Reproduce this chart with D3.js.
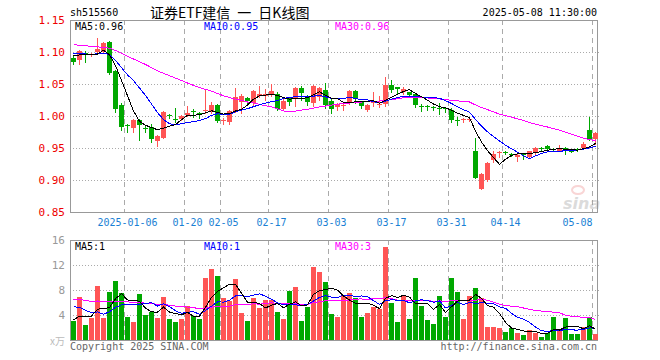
<!DOCTYPE html>
<html>
<head>
<meta charset="utf-8">
<script src="https://cdn.jsdelivr.net/npm/d3@7"></script>
<style>
  body { margin: 0; background: #fff; }
  svg { display: block; }
  text { font-family: "DejaVu Sans Mono", monospace; font-size: 10px; }
</style>
</head>
<body>
<div id="chart"></div>
<script>
// trading days shown on the chart
const dates = [
  '2024-12-23','2024-12-24','2024-12-25','2024-12-26','2024-12-27','2024-12-30','2024-12-31',
  '2025-01-02','2025-01-03','2025-01-06','2025-01-07','2025-01-08','2025-01-09','2025-01-10',
  '2025-01-13','2025-01-14','2025-01-15','2025-01-16','2025-01-17','2025-01-20','2025-01-21',
  '2025-01-22','2025-01-23','2025-01-24','2025-01-27','2025-02-05','2025-02-06','2025-02-07',
  '2025-02-10','2025-02-11','2025-02-12','2025-02-13','2025-02-14','2025-02-17','2025-02-18',
  '2025-02-19','2025-02-20','2025-02-21','2025-02-24','2025-02-25','2025-02-26','2025-02-27',
  '2025-02-28','2025-03-03','2025-03-04','2025-03-05','2025-03-06','2025-03-07','2025-03-10',
  '2025-03-11','2025-03-12','2025-03-13','2025-03-14','2025-03-17','2025-03-18','2025-03-19',
  '2025-03-20','2025-03-21','2025-03-24','2025-03-25','2025-03-26','2025-03-27','2025-03-28',
  '2025-03-31','2025-04-01','2025-04-02','2025-04-03','2025-04-07','2025-04-08','2025-04-09',
  '2025-04-10','2025-04-11','2025-04-14','2025-04-15','2025-04-16','2025-04-17','2025-04-18',
  '2025-04-21','2025-04-22','2025-04-23','2025-04-24','2025-04-25','2025-04-28','2025-04-29',
  '2025-04-30','2025-05-06','2025-05-07','2025-05-08'
]

const open = [
  1.091,1.088,1.098,1.095,1.100,1.100,1.115,1.071,1.017,0.986,
  0.981,0.994,0.982,0.983,0.960,0.967,1.001,0.996,0.996,1.001,
  1.008,1.005,1.007,1.007,1.017,0.992,0.991,1.007,1.021,1.028,
  1.021,1.031,1.032,1.034,1.035,1.012,1.028,1.028,1.043,1.031,
  1.021,1.029,1.040,1.024,1.013,1.016,1.020,1.039,1.022,1.009,
  1.021,1.018,1.018,1.048,1.045,1.038,1.038,1.035,1.016,1.015,
  1.014,1.013,1.012,1.010,0.994,0.994,0.993,0.946,0.887,0.900,
  0.930,0.942,0.944,0.941,0.936,0.941,0.936,0.942,0.950,0.953,
  0.948,0.946,0.950,0.946,0.948,0.950,0.978,0.964
]
const high = [
  1.093,1.103,1.102,1.099,1.122,1.116,1.117,1.072,1.020,0.988,
  0.995,0.995,0.985,0.987,0.970,1.008,1.003,1.013,1.001,1.016,
  1.011,1.007,1.040,1.022,1.019,0.997,1.009,1.043,1.034,1.030,
  1.040,1.047,1.042,1.050,1.038,1.027,1.030,1.045,1.047,1.033,
  1.049,1.046,1.051,1.026,1.020,1.020,1.041,1.041,1.024,1.018,
  1.037,1.032,1.061,1.056,1.045,1.045,1.038,1.036,1.019,1.017,
  1.016,1.020,1.014,1.012,0.999,0.997,0.996,0.966,0.911,0.928,
  0.945,0.946,0.946,0.942,0.941,0.942,0.946,0.951,0.951,0.954,
  0.950,0.954,0.951,0.947,0.950,0.959,0.999,0.975
]
const low = [
  1.081,1.082,1.084,1.093,1.099,1.099,1.066,1.007,0.978,0.975,
  0.975,0.963,0.975,0.960,0.953,0.966,0.997,0.990,0.994,1.000,
  0.999,0.997,1.005,1.005,0.990,0.988,0.987,1.006,1.005,1.020,
  1.016,1.029,1.025,1.032,1.010,1.010,1.017,1.015,1.025,1.017,
  1.015,1.025,1.013,1.005,1.010,1.010,1.018,1.020,1.012,1.008,
  1.015,1.014,1.015,1.037,1.036,1.035,1.030,1.014,1.008,1.010,
  1.010,1.003,1.006,0.990,0.986,0.991,0.992,0.903,0.886,0.898,
  0.928,0.936,0.940,0.937,0.929,0.933,0.935,0.941,0.947,0.948,
  0.945,0.945,0.941,0.943,0.945,0.949,0.962,0.956
]
const close = [
  1.084,1.102,1.097,1.097,1.104,1.114,1.067,1.011,0.982,0.985,
  0.994,0.986,0.981,0.964,0.968,1.007,1.000,0.995,1.000,1.004,
  1.007,1.004,1.009,1.017,0.992,0.993,1.008,1.029,1.031,1.024,
  1.039,1.034,1.035,1.039,1.012,1.024,1.021,1.043,1.035,1.021,
  1.047,1.043,1.016,1.012,1.018,1.017,1.039,1.026,1.016,1.017,
  1.022,1.019,1.048,1.040,1.042,1.042,1.034,1.018,1.015,1.014,
  1.013,1.012,1.011,0.994,0.993,0.995,0.995,0.904,0.910,0.926,
  0.940,0.943,0.943,0.940,0.939,0.940,0.945,0.950,0.949,0.949,
  0.947,0.950,0.945,0.945,0.947,0.957,0.964,0.973
]
const volume = [
  3.04,6.93,2.40,3.57,8.69,3.57,7.73,9.49,7.57,3.73,
  2.93,7.36,4.00,4.43,3.57,6.93,3.36,2.93,3.36,5.49,
  3.84,3.36,9.97,11.36,10.29,6.77,6.29,9.76,4.27,3.09,
  6.77,5.17,6.40,6.40,4.53,3.36,7.84,8.43,3.09,5.33,
  11.73,10.93,9.33,4.20,3.73,7.09,7.57,6.77,3.73,4.37,
  5.33,4.91,14.93,5.97,2.93,7.04,3.41,9.97,5.44,3.20,
  2.56,7.09,3.73,9.97,7.73,3.41,7.04,8.37,6.67,2.13,
  2.08,1.97,1.33,1.97,1.17,0.80,1.60,1.17,0.53,1.07,
  3.73,1.49,3.57,0.96,0.96,2.08,3.73,0.96
]

// sessions before the window, only used to seed the moving averages
const preClose = [
  1.120,1.125,1.130,1.128,1.122,1.118,1.115,1.120,1.125,1.118,
  1.112,1.108,1.115,1.120,1.118,1.112,1.110,1.115,1.118,1.120,
  1.100,1.100,1.100,1.100,1.100,1.095,1.097,1.097,1.097
]
const preVolume = [
  6.5,7.8,8.2,6.9,7.4,5.6,7.9,8.5,6.2,7.0,
  6.8,7.6,5.9,7.2,8.0,6.4,7.3,6.6,7.1,6.8,
  8.1,7.2,6.9,7.8,7.3,3.73,2.4,3.57,3.26
]

const tickDates = ['2025-01-06','2025-01-20','2025-02-05','2025-02-17','2025-03-03',
  '2025-03-17','2025-03-31','2025-04-14','2025-05-08']
const priceTicks = [0.85, 0.90, 0.95, 1.00, 1.05, 1.10, 1.15]
const volTicks = [4, 8, 12, 16]
const maPeriods = [5, 10, 30]
const maColors = ['#000', '#00f', '#f0f']

const width = 660, height = 360
const left = 70, right = 597
const pTop = 20, pBottom = 212
const vTop = 240, vBottom = 340
const upColor = '#ff5555', downColor = '#00a800'

function movingAverage(pre, series, n) {
  const all = pre.concat(series)
  return series.map((_, i) => {
    const end = pre.length + i
    return d3.mean(all.slice(end - n + 1, end + 1))
  })
}

const svg = d3.select('#chart').append('svg')
  .attr('width', width)
  .attr('height', height)

const x = d3.scaleBand()
  .domain(d3.range(dates.length))
  .range([70.5, 598.5])
  .paddingInner(1 / 6)
  .paddingOuter(1 / 12)

const y = d3.scaleLinear().domain([0.85, 1.15]).range([pBottom, pTop])
const yv = d3.scaleLinear().domain([0, 16]).range([vBottom, vTop])

const tickIdx = tickDates.map(d => dates.indexOf(d))
const isUp = i => close[i] >= open[i]

// header
svg.append('text').attr('x', 70).attr('y', 16).text('sh515560')
svg.append('text')
  .attr('x', 150).attr('y', 18)
  .style('font-family', '"Noto Sans CJK SC", sans-serif')
  .style('font-size', '14px')
  .text('证券ETF建信\u2002一\u2002日K线图')
svg.append('text')
  .attr('x', 597).attr('y', 16)
  .attr('text-anchor', 'end')
  .text('2025-05-08 11:30:00')

// grid and frames
function panelGrid(top, bottom, yScale, values) {
  const g = svg.append('g')
  g.selectAll('line.h')
    .data(values.filter(v => yScale(v) > top + 1 && yScale(v) < bottom - 1))
    .join('line')
    .attr('x1', left).attr('x2', right + 3)
    .attr('y1', d => Math.round(yScale(d)) + 0.5)
    .attr('y2', d => Math.round(yScale(d)) + 0.5)
    .attr('stroke', '#aaa')
    .attr('stroke-dasharray', '1,2')
  g.selectAll('line.v')
    .data(tickIdx)
    .join('line')
    .attr('x1', d => x(d) - 0.5).attr('x2', d => x(d) - 0.5)
    .attr('y1', top).attr('y2', bottom)
    .attr('stroke', '#aaa')
    .attr('stroke-dasharray', '5,4')
  g.append('rect')
    .attr('x', left + 0.5).attr('y', top + 0.5)
    .attr('width', right - left).attr('height', bottom - top)
    .attr('fill', 'none')
    .attr('stroke', '#999')
}
panelGrid(pTop, pBottom, y, priceTicks)
panelGrid(vTop, vBottom, yv, volTicks)

// axes
const yAxis = svg.append('g')
  .attr('transform', `translate(${left},0)`)
  .call(d3.axisLeft(y).tickValues(priceTicks).tickFormat(d3.format('.2f')).tickSize(0).tickPadding(5))
yAxis.select('.domain').remove()
yAxis.selectAll('text').attr('fill', '#e00').style('font-size', '11px')

const vAxis = svg.append('g')
  .attr('transform', `translate(${left},0)`)
  .call(d3.axisLeft(yv).tickValues(volTicks).tickSize(0).tickPadding(5))
vAxis.select('.domain').remove()
vAxis.selectAll('text').attr('fill', '#999').style('font-size', '11px')

const xAxis = svg.append('g')
  .attr('transform', `translate(0,${pBottom + 4})`)
  .call(d3.axisBottom(x).tickValues(tickIdx).tickSize(0)
    .tickFormat((d, i) => i === 0 ? dates[d] : dates[d].slice(5)))
xAxis.select('.domain').remove()
xAxis.selectAll('text')
  .attr('fill', '#1a7fd4')
  .style('font-size', '10px')
xAxis.selectAll('.tick').filter((d, i) => i === tickIdx.length - 1)
  .select('text').attr('text-anchor', 'end').attr('x', -3)

// watermark
const wm = svg.append('g').attr('opacity', 0.35)
wm.append('ellipse').attr('cx', 578).attr('cy', 190).attr('rx', 6).attr('ry', 4)
  .attr('fill', 'none').attr('stroke', '#e88').attr('stroke-width', 2)
wm.append('text').attr('x', 563).attr('y', 209)
  .style('font-family', '"DejaVu Sans", sans-serif')
  .style('font-size', '16px').style('font-weight', 'bold').style('font-style', 'italic')
  .attr('fill', '#999').text('sina')

// candles
const candles = svg.append('g')
candles.selectAll('line')
  .data(d3.range(dates.length))
  .join('line')
  .attr('x1', i => x(i) + 2.5).attr('x2', i => x(i) + 2.5)
  .attr('y1', i => Math.round(y(high[i])))
  .attr('y2', i => Math.round(y(low[i])) + 1)
  .attr('stroke', i => isUp(i) ? upColor : downColor)
candles.selectAll('rect')
  .data(d3.range(dates.length))
  .join('rect')
  .attr('x', i => x(i))
  .attr('width', x.bandwidth())
  .attr('y', i => Math.round(y(Math.max(open[i], close[i]))))
  .attr('height', i => Math.max(1, Math.round(Math.abs(y(open[i]) - y(close[i])))))
  .attr('fill', i => isUp(i) ? upColor : downColor)

// volume bars
svg.append('g').selectAll('rect')
  .data(d3.range(dates.length))
  .join('rect')
  .attr('x', i => x(i))
  .attr('width', x.bandwidth())
  .attr('y', i => Math.round(yv(volume[i])))
  .attr('height', i => vBottom - Math.round(yv(volume[i])))
  .attr('fill', i => isUp(i) ? upColor : downColor)

// moving averages
function drawMAs(pre, series, yScale) {
  const mas = maPeriods.map(n => movingAverage(pre, series, n))
  const line = d3.line().x((d, i) => x(i) + 2.5).y(d => yScale(d))
  for (let k = mas.length - 1; k >= 0; k--) {
    svg.append('path')
      .attr('d', line(mas[k]))
      .attr('fill', 'none')
      .attr('stroke', maColors[k])
      .attr('stroke-width', 1)
      .attr('shape-rendering', 'crispEdges')
  }
  return mas
}
const priceMA = drawMAs(preClose, close, y)
drawMAs(preVolume, volume, yv)

// legends
const labelX = [75, 204, 335]
maPeriods.forEach((n, k) => {
  const last = priceMA[k][priceMA[k].length - 1]
  svg.append('text').attr('x', labelX[k]).attr('y', 30)
    .attr('fill', maColors[k]).text(`MA${n}:${last.toFixed(2)}`)
})
const volLabels = ['1', '1', '3']
maPeriods.forEach((n, k) => {
  svg.append('text').attr('x', labelX[k]).attr('y', 250)
    .attr('fill', maColors[k]).text(`MA${n}:${volLabels[k]}`)
})

// footer
svg.append('text').attr('x', 65).attr('y', 345).attr('text-anchor', 'end')
  .attr('fill', '#bbb').style('font-family', '"Noto Sans CJK SC", sans-serif')
  .style('font-size', '10px').text('x万')
svg.append('text').attr('x', 70).attr('y', 350).attr('fill', '#666')
  .text('Copyright 2025 SINA.COM')
svg.append('text').attr('x', 597).attr('y', 350).attr('text-anchor', 'end')
  .attr('fill', '#666').text('http://finance.sina.com.cn')
</script>
</body>
</html>
